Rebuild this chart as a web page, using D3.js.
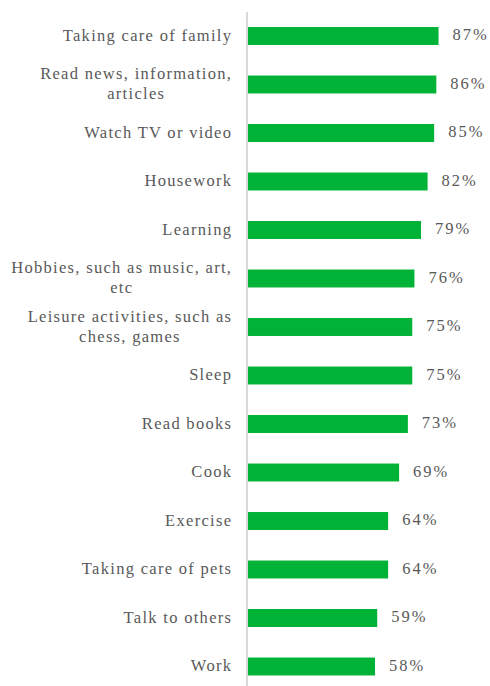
<!DOCTYPE html>
<html>
<head>
<meta charset="utf-8">
<script src="https://cdn.jsdelivr.net/npm/d3@7"></script>
<style>
  html, body { margin: 0; padding: 0; background: #fff; }
  svg { display: block; }
  text { font-family: "Liberation Serif", "DejaVu Serif", serif; fill: #595959; }
</style>
</head>
<body>
<svg id="chart" width="490" height="686"></svg>
<script>
// Activities, top to bottom, with share of respondents (%)
const categories = [
  ["Taking care of family"],
  ["Read news, information,", "articles"],
  ["Watch TV or video"],
  ["Housework"],
  ["Learning"],
  ["Hobbies, such as music, art,", "etc"],
  ["Leisure activities, such as", "chess, games"],
  ["Sleep"],
  ["Read books"],
  ["Cook"],
  ["Exercise"],
  ["Taking care of pets"],
  ["Talk to others"],
  ["Work"]
];
const values = [87, 86, 85, 82, 79, 76, 75, 75, 73, 69, 64, 64, 59, 58];
const valueLabels = values.map(v => v + "%");

const svg = d3.select("#chart");
const keys = categories.map((c, i) => i);

const x = d3.scaleLinear().domain([0, 100]).range([248, 467]);
const y = d3.scaleBand().domain(keys).range([11.75, 690.75]).paddingInner(0.63).paddingOuter(0.315);

// vertical category axis line
svg.append("line")
  .attr("x1", 247).attr("x2", 247)
  .attr("y1", 12).attr("y2", 686)
  .attr("stroke", "#d9d9d9").attr("stroke-width", 2);

// bars
svg.selectAll("rect.bar").data(keys).join("rect")
  .attr("class", "bar")
  .attr("x", x(0))
  .attr("y", i => y(i))
  .attr("width", i => x(values[i]) - x(0))
  .attr("height", y.bandwidth())
  .attr("fill", "#00b336");

// value labels
svg.selectAll("text.val").data(keys).join("text")
  .attr("class", "val")
  .attr("x", i => x(values[i]) + 14)
  .attr("y", i => y(i) + y.bandwidth() / 2 + 4.2)
  .attr("font-size", 16.5)
  .attr("letter-spacing", 2)
  .text(i => valueLabels[i]);

// category labels (wrapped lines centered on each other, block right-aligned)
const fs = 16.5, lh = 20, ls = 1.3;
const g = svg.selectAll("text.cat").data(keys).join("text")
  .attr("class", "cat")
  .attr("font-size", fs)
  .attr("letter-spacing", ls);
g.each(function(i) {
  const lines = categories[i];
  const t = d3.select(this);
  const cy = y(i) + y.bandwidth() / 2;
  const spans = lines.map((ln, k) => t.append("tspan")
    .attr("y", cy + 4.8 + (k - (lines.length - 1) / 2) * lh)
    .text(ln));
  const widths = spans.map(s => s.node().getComputedTextLength());
  const maxW = Math.max(...widths);
  const right = 231 + ls;
  spans.forEach(s => s.attr("x", right - maxW / 2).attr("text-anchor", "middle"));
});
</script>
</body>
</html>
